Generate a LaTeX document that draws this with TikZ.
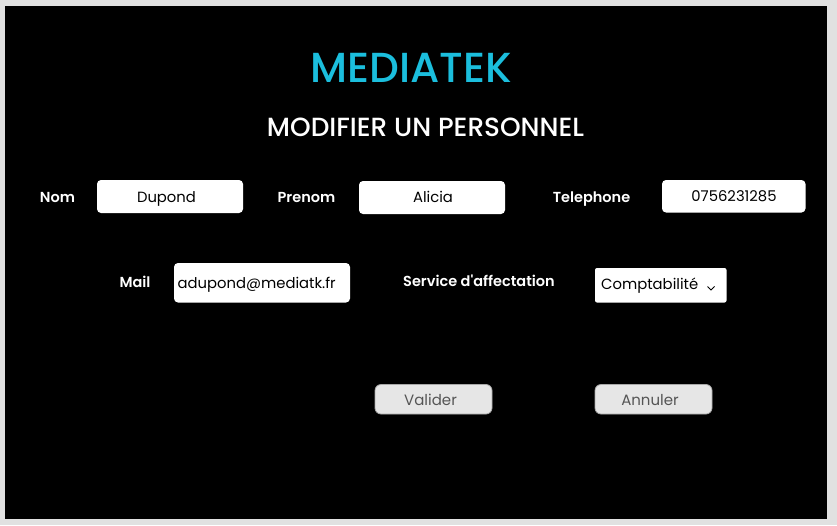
\documentclass[tikz,border=0pt]{standalone}
\usepackage{fontspec}
\setmainfont{Poppins}
\newfontfamily\pmed{Poppins Medium}
\newfontfamily\psemi{Poppins SemiBold}
\definecolor{outerbg}{HTML}{E1E1E1}
\definecolor{cyantitle}{HTML}{1BBEDD}
\definecolor{btnfill}{HTML}{E6E6E6}
\definecolor{btnborder}{HTML}{A8A8A8}
\definecolor{btntext}{HTML}{555555}
\tikzset{
  lbl/.style={anchor=base, inner sep=0pt, text=white, font=\psemi\fontsize{14.5}{18}\selectfont},
  field/.style={draw=none, fill=white, rounded corners=4pt},
  fieldtext/.style={anchor=base, inner sep=0pt, text=black, font=\fontsize{14.8}{18}\selectfont},
  btn/.style={draw=btnborder, line width=0.8pt, fill=btnfill, rounded corners=6pt},
  btntxt/.style={anchor=base, inner sep=0pt, text=btntext, font=\fontsize{15}{18}\selectfont}
}
\begin{document}
\begin{tikzpicture}[x=1pt,y=-1pt]
\useasboundingbox (0,0) rectangle (837,525);
\fill[outerbg] (0,0) rectangle (837,525);
\fill[black] (5,6) rectangle (827,519);
% titles
\node[anchor=base, inner sep=0pt, text=cyantitle, font=\pmed\fontsize{42}{48}\selectfont] (title) at (411,82) {MEDIATEK};
\node[anchor=base, inner sep=0pt, text=white, font=\pmed\fontsize{26.3}{32}\selectfont] (subtitle) at (425.5,136.5) {MODIFIER UN PERSONNEL};
% row 1
\node[lbl] (lnom) at (57.5,202) {Nom};
\path[field] (97,180) rectangle (243,213);
\node[fieldtext] (vnom) at (166.5,202.5) {Dupond};
\node[lbl] (lprenom) at (306.5,202) {Prenom};
\path[field] (359,181) rectangle (505,214);
\node[fieldtext] (vprenom) at (433,202.5) {Alicia};
\node[lbl] (ltel) at (591.5,202) {Telephone};
\path[field] (662,180) rectangle (805.5,212.5);
\node[fieldtext] (vtel) at (734,201.7) {0756231285};
% row 2
\node[lbl] (lmail) at (135,287.3) {Mail};
\path[field] (174,263) rectangle (350,302.5);
\node[fieldtext, anchor=base west] (vmail) at (177.5,288.3) {adupond@mediatk.fr};
\node[lbl] (lservice) at (479,286.7) {Service d'affectation};
\path[fill=white, rounded corners=2pt] (595,268) rectangle (726.5,302.5);
\node[fieldtext, anchor=base west] (vservice) at (601,289) {Comptabilité};
\draw[line width=0.9pt, black] (707.5,286.5) -- (711,290) -- (714.5,286.5);
% buttons
\path[btn] (375,384.5) rectangle (492,414);
\node[btntxt] (bval) at (430.5,405) {Valider};
\path[btn] (595,384.5) rectangle (712,414);
\node[btntxt] (bann) at (650,405) {Annuler};
\end{tikzpicture}
\end{document}
